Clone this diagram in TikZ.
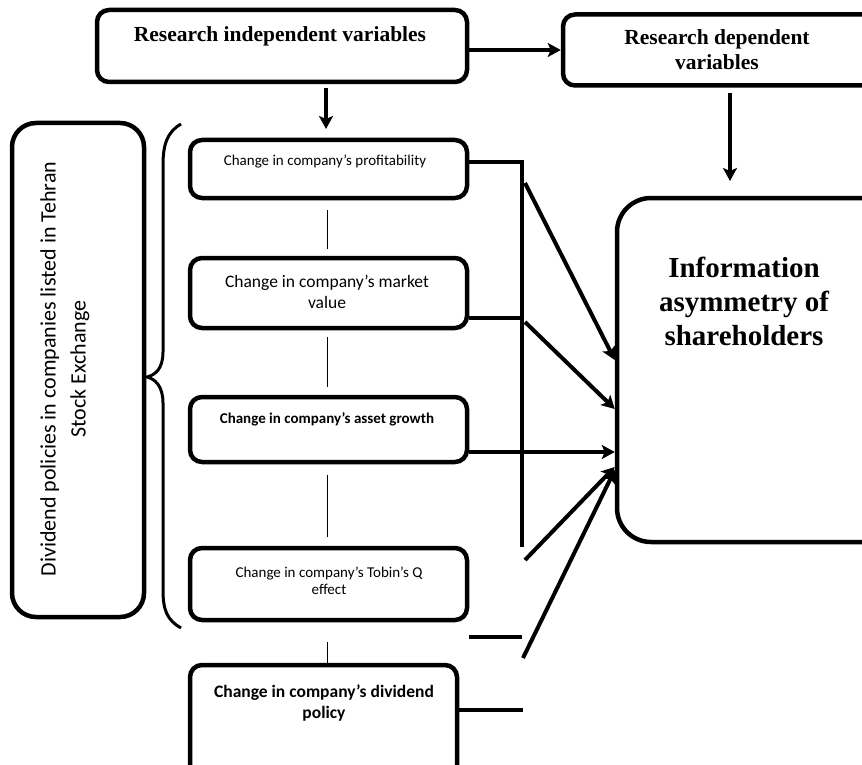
\documentclass[tikz,border=0pt]{standalone}
\usepackage{fontspec}
\setmainfont{Liberation Serif}
\newfontfamily\calibri{Carlito}
\usetikzlibrary{arrows.meta}

\tikzset{
  box/.style={draw, line width=4.5pt, rounded corners=12pt, inner sep=0pt},
  bigbox/.style={draw, line width=4.5pt, rounded corners=34pt, inner sep=0pt},
  conn/.style={line width=4pt},
  arr/.style={line width=4pt, -{Stealth[length=13pt,width=14pt,inset=3pt]}},
  thin/.style={line width=1pt},
  serifbold/.style={font=\bfseries\fontsize{21.5}{25}\selectfont, inner sep=0pt},
  sublabel/.style={inner sep=0pt, align=center},
}

\begin{document}
\begin{tikzpicture}[x=1pt,y=-1pt]
\useasboundingbox (0,0) rectangle (862,765);

% header boxes (multi-line labels are anchored at the baseline of their last line)
\node[box, minimum width=370pt, minimum height=72pt] (indep) at (282,46) {};
\node[box, minimum width=322pt, minimum height=71pt] (dep) at (724,50) {};
\node[serifbold, anchor=base] (tindep) at (280,42) {Research independent variables};
\node[serifbold, anchor=base, align=center] (tdep) at (717,70) {Research dependent\\variables};

% outcome box
\node[bigbox, minimum width=283pt, minimum height=344pt] (big) at (758.5,370) {};
\node[inner sep=0pt, align=center, font=\bfseries\fontsize{29}{34}\selectfont, anchor=base] (tbig) at (744,345) {Information\\asymmetry of\\shareholders};

% left box with rotated title
\node[box, rounded corners=24pt, minimum width=132pt, minimum height=494pt] (left) at (78,370) {};
\node[inner sep=0pt, align=center, rotate=90, font=\calibri\fontsize{22}{30}\selectfont] (tleft) at (65,369) {Dividend policies in companies listed in Tehran\\Stock Exchange};

% brace grouping the four measures
\draw[line width=3pt] (181,124) .. controls (167,132) and (163,145) .. (163,165)
  -- (163,352) .. controls (163,369) and (155,375) .. (147,377)
  .. controls (155,379) and (163,386) .. (163,403)
  -- (163,590) .. controls (163,610) and (167,620) .. (181,628);

% variable boxes
\node[box, minimum width=277pt, minimum height=58pt] (prof) at (328.5,169) {};
\node[box, minimum width=277pt, minimum height=70pt] (market) at (328.5,293) {};
\node[box, minimum width=277pt, minimum height=65pt] (asset) at (328.5,429.5) {};
\node[box, minimum width=277pt, minimum height=72pt] (tobin) at (328.5,584) {};
\node[box, minimum width=267pt, minimum height=125pt] (divid) at (323.5,727.5) {};

\node[sublabel, anchor=base, font=\calibri\fontsize{15}{18}\selectfont] (tprof) at (325,165) {Change in company’s profitability};
\node[sublabel, anchor=base, font=\calibri\fontsize{17.5}{21}\selectfont] (tmarket) at (327,308) {Change in company’s market\\value};
\node[sublabel, anchor=base, font=\calibri\bfseries\fontsize{15}{18}\selectfont] (tasset) at (327,423) {Change in company’s asset growth};
\node[sublabel, anchor=base, font=\calibri\fontsize{15}{16.5}\selectfont] (ttobin) at (329,594) {Change in company’s Tobin’s Q\\effect};
\node[sublabel, anchor=base, font=\calibri\bfseries\fontsize{17.5}{21}\selectfont] (tdivid) at (324,718) {Change in company’s dividend\\policy};

% thin links between the variable boxes
\coordinate (v1a) at (327,210); \coordinate (v1b) at (327,249);
\coordinate (v2a) at (327,337); \coordinate (v2b) at (327,387);
\coordinate (v3a) at (327,475); \coordinate (v3b) at (327,537);
\coordinate (v4a) at (327,642);
\draw[thin] (v1a) -- (v1b);
\draw[thin] (v2a) -- (v2b);
\draw[thin] (v3a) -- (v3b);
\draw[thin] (v4a) -- (v4a |- divid.north);

% header arrows
\coordinate (h1) at (326,88); \coordinate (h2) at (326,129);
\coordinate (h3) at (730,93); \coordinate (h4) at (730,181);
\draw[arr] (indep.east |- dep.west) -- (dep.west);
\draw[arr] (h1) -- (h2);
\draw[arr] (h3) -- (h4);

% collector lines and arrows into the outcome box
\coordinate (j1) at (522,162);
\coordinate (j2) at (522,318);
\coordinate (jb) at (522,547);
\coordinate (s1) at (525,183);
\coordinate (s2) at (525,322);
\coordinate (s4) at (525,560);
\coordinate (s5) at (523,658);
\coordinate (e1) at (522,637);
\coordinate (e2) at (523,710);
\draw[conn] (prof.east |- j1) -- (j1) -- (jb);
\draw[conn] (market.east |- j2) -- (j2);
\draw[conn] (tobin.east |- e1) -- (e1);
\draw[conn] (divid.east |- e2) -- (e2);
\draw[arr] (s1) -- (big.west |- 0,360);
\draw[arr] (s2) -- (big.west |- 0,409);
\draw[arr] (asset.east |- 0,452) -- (big.west |- 0,452);
\draw[arr] (s4) -- (big.west |- 0,467);
\draw[arr] (s5) -- (big.west |- 0,470);
\end{tikzpicture}
\end{document}
